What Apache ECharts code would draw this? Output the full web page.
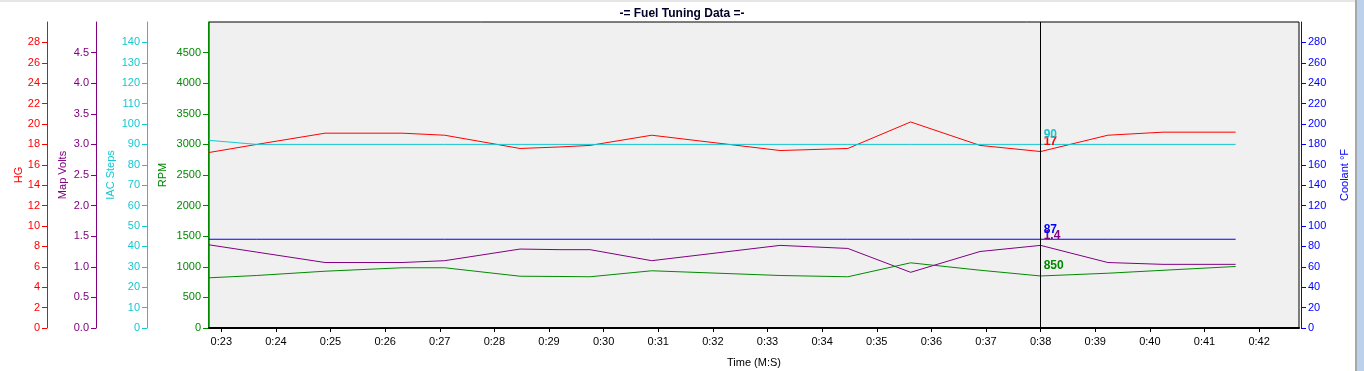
<!DOCTYPE html>
<html><head><meta charset="utf-8">
<script src="https://cdn.jsdelivr.net/npm/echarts@6/dist/echarts.min.js"></script>
<style>html,body{margin:0;padding:0;background:#fff}#c{width:1364px;height:371px}</style>
</head><body><div id="c"></div><script>
// Time in seconds
const times    = [22.77, 23.65, 24.90, 26.31, 27.09, 28.47, 29.20, 29.75, 30.88, 33.23, 34.47, 35.62, 36.89, 38.00, 39.23, 40.24, 41.57];
const hg       = [17.2, 18.0, 19.1, 19.1, 18.9, 17.6, 17.75, 17.9, 18.9, 17.4, 17.6, 20.2, 17.9, 17.3, 18.9, 19.2, 19.2];
const mapVolts = [1.36, 1.24, 1.07, 1.07, 1.10, 1.29, 1.28, 1.28, 1.10, 1.35, 1.30, 0.91, 1.25, 1.35, 1.07, 1.04, 1.04];
const iacSteps = [92, 90, 90, 90, 90, 90, 90, 90, 90, 90, 90, 90, 90, 90, 90, 90, 90];
const rpm      = [820, 858, 928, 984, 984, 846, 842, 837, 935, 858, 837, 1065, 944, 850, 895, 943, 1005];
const coolant  = [87, 87, 87, 87, 87, 87, 87, 87, 87, 87, 87, 87, 87, 87, 87, 87, 87];

const cursorTime = 38.00;
const cursorLabels = { iac: '90', hg: '17', coolant: '87', map: '1.4', rpm: '850' };

const xTicks       = [23,24,25,26,27,28,29,30,31,32,33,34,35,36,37,38,39,40,41,42];
const hgTicks      = [0,2,4,6,8,10,12,14,16,18,20,22,24,26,28];
const mapTicks     = [0,0.5,1,1.5,2,2.5,3,3.5,4,4.5];
const iacTicks     = [0,10,20,30,40,50,60,70,80,90,100,110,120,130,140];
const rpmTicks     = [0,500,1000,1500,2000,2500,3000,3500,4000,4500];
const coolantTicks = [0,20,40,60,80,100,120,140,160,180,200,220,240,260,280];

const FONT = 'Liberation Sans, Arial, sans-serif';
const C = { hg:'#ff0000', map:'#800080', iac:'#14c8d2', rpm:'#008a00', coolant:'#0000ff' };

function yAx(name, color, max, ticks, offset, gap, fmt, pos) {
  return {
    type:'value', position: pos || 'left', offset: offset, min:0, max:max,
    name: name, nameLocation:'middle', nameGap: gap, nameRotate: 90, nameMoveOverlap: false,
    nameTextStyle:{ color: color, fontSize: 11, fontFamily: FONT },
    axisLine:{ show:true, onZero:false, lineStyle:{ color: color, width: 1 } },
    axisTick:{ show:true, inside:false, length:5, customValues: ticks, lineStyle:{ color: color } },
    axisLabel:{ color: color, fontSize: 11, fontFamily: FONT, margin: 7, customValues: ticks,
                formatter: fmt || (v => String(v)) },
    splitLine:{ show:false }
  };
}

function mkSeries(name, vals, yIdx, color, labelKey) {
  const ci = times.indexOf(cursorTime);
  return {
    name: name, type:'line', yAxisIndex: yIdx, showSymbol:false, symbol:'none',
    lineStyle:{ color: color, width: 1 }, itemStyle:{ color: color },
    data: times.map((t, i) => [t, vals[i]]),
    markPoint:{
      symbol:'circle', symbolSize: 0, silent:true,
      data:[{ coord:[cursorTime, vals[ci]] }],
      label:{ show:true, position:'right', distance: 3, offset:[0,-10],
              formatter: () => cursorLabels[labelKey],
              color: color, fontWeight:'bold', fontSize: 12, fontFamily: FONT }
    }
  };
}

const chart = echarts.init(document.getElementById('c'), null, { renderer:'canvas' });
const option = {
  animation:false,
  backgroundColor:'#ffffff',
  title:{ text:'-= Fuel Tuning Data =-', left:'center', top: 3,
          textStyle:{ fontSize: 12, fontWeight:'bold', color:'#000028', fontFamily: FONT } },
  grid:{ left: 209, right: 65, top: 22, bottom: 43, show:true, containLabel:false, outerBoundsMode:'none',
         backgroundColor:'#f0f0f0', borderColor:'#000000', borderWidth: 1 },
  graphic:[
    { type:'rect', shape:{ x:0, y:0, width:1364, height:2 }, style:{ fill:'#e6e6e6' }, silent:true },
    { type:'rect', shape:{ x:1355, y:0, width:2, height:371 }, style:{ fill:'#a8a8a8' }, silent:true },
    { type:'rect', shape:{ x:1357, y:0, width:7, height:371 }, style:{ fill:'#bcd2ec' }, silent:true }
  ],
  xAxis:{
    type:'value', min: 22.775, max: 42.73,
    name:'Time (M:S)', nameLocation:'middle', nameGap: 29, nameMoveOverlap: false,
    nameTextStyle:{ color:'#000', fontSize: 11, fontFamily: FONT },
    axisLine:{ show:true, onZero:false, lineStyle:{ color:'#000', width: 2 } },
    axisTick:{ show:true, length:4, customValues: xTicks, lineStyle:{ color:'#000' } },
    axisLabel:{ color:'#000', fontSize: 11, fontFamily: FONT, margin: 8, customValues: xTicks,
                formatter: v => { const m = Math.floor(v/60), s = Math.round(v - m*60); return m + ':' + (s<10?'0':'') + s; } },
    splitLine:{ show:false }
  },
  yAxis:[
    yAx('HG', C.hg, 30, hgTicks, 162, 23),
    yAx('Map Volts', C.map, 5, mapTicks, 113, 28, v => v.toFixed(1)),
    yAx('IAC Steps', C.iac, 150, iacTicks, 62, 31),
    yAx('RPM', C.rpm, 5000, rpmTicks, 1, 40),
    yAx('Coolant °F', C.coolant, 300, coolantTicks, 2, 38, null, 'right')
  ],
  series:[
    mkSeries('HG', hg, 0, C.hg, 'hg'),
    mkSeries('IAC Steps', iacSteps, 2, C.iac, 'iac'),
    mkSeries('Map Volts', mapVolts, 1, C.map, 'map'),
    mkSeries('RPM', rpm, 3, C.rpm, 'rpm'),
    Object.assign(mkSeries('Coolant', coolant, 4, C.coolant, 'coolant'), {
      markLine:{ symbol:'none', silent:true, label:{ show:false },
                 lineStyle:{ color:'#000', width:1, type:'solid' },
                 data:[{ xAxis: cursorTime }] }
    })
  ]
};
chart.setOption(option);
</script></body></html>
